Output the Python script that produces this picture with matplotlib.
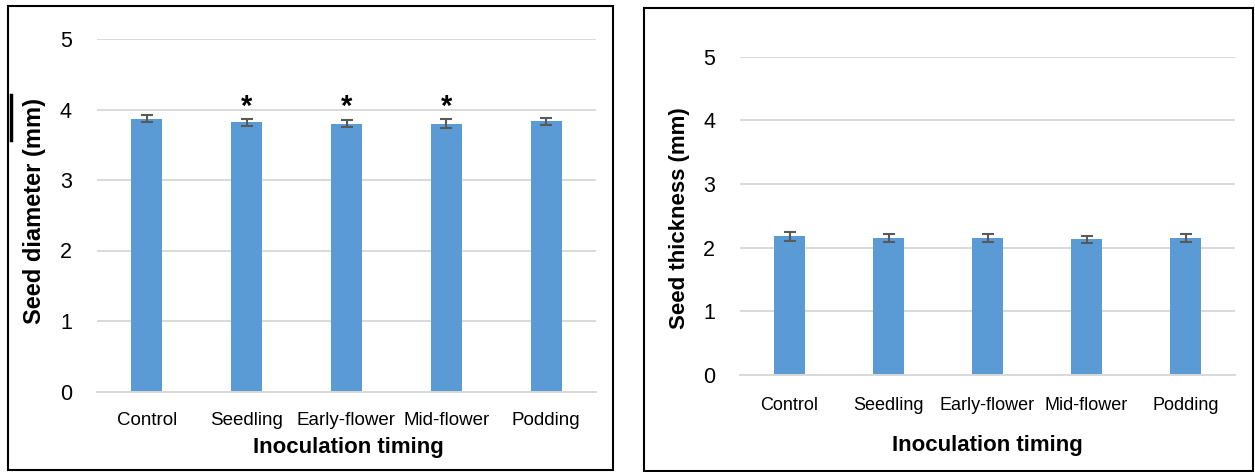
import matplotlib
matplotlib.use("Agg")
import matplotlib.pyplot as plt
from matplotlib.patches import Rectangle
from matplotlib.lines import Line2D

plt.rcParams['font.family'] = ['Liberation Sans', 'DejaVu Sans']

categories = ["Control", "Seedling", "Early-flower", "Mid-flower", "Podding"]
diameter = [3.87, 3.82, 3.80, 3.80, 3.83]
diameter_err = [0.05, 0.05, 0.05, 0.06, 0.05]
diameter_sig = [False, True, True, True, False]
thickness = [2.18, 2.15, 2.15, 2.13, 2.15]
thickness_err = [0.07, 0.065, 0.06, 0.06, 0.065]
yticks = [0, 1, 2, 3, 4, 5]

W, H = 1255, 472
fig = plt.figure(figsize=(W / 100, H / 100), dpi=100)

bar_color = "#5B9BD5"
grid_color = "#D9D9D9"
err_color = "#595959"


def px_axes(x0, x1, ytop, ybot):
    return fig.add_axes([x0 / W, 1 - ybot / H, (x1 - x0) / W, (ybot - ytop) / H])


def style(ax, vals, errs, cat_fs, xpad):
    x = range(len(categories))
    ax.bar(x, vals, width=0.31, color=bar_color, zorder=2)
    ax.errorbar(x, vals, yerr=errs, fmt="none", ecolor=err_color,
                elinewidth=1.5, capsize=4.3, capthick=1.5, zorder=3)
    ax.set_xlim(-0.5, len(categories) - 0.5)
    ax.set_ylim(0, 5)
    ax.set_yticks(yticks)
    ax.set_yticklabels([str(t) for t in yticks], fontsize=15.5)
    ax.set_xticks(list(x))
    ax.set_xticklabels(categories, fontsize=cat_fs)
    ax.grid(axis="y", color=grid_color, linewidth=1.4, zorder=0)
    ax.set_axisbelow(True)
    for s in ["top", "right", "left"]:
        ax.spines[s].set_visible(False)
    ax.spines["bottom"].set_color(grid_color)
    ax.spines["bottom"].set_linewidth(1.4)
    ax.tick_params(axis="both", length=0, colors="black")
    ax.tick_params(axis="y", pad=18)
    ax.tick_params(axis="x", pad=xpad)


# Left panel
ax1 = px_axes(97, 596, 39, 391.5)
style(ax1, diameter, diameter_err, 13.5, 14.5)
for i, s in enumerate(diameter_sig):
    if s:
        ax1.text(i, 4.04, "*", ha="center", va="center", fontsize=21,
                 fontweight="bold", color="black")
fig.text(35 / W, 1 - 211 / H, "Seed diameter (mm)", rotation=90,
         ha="center", va="center", fontsize=17, fontweight="bold")
fig.text(348 / W, 1 - 448 / H, "Inoculation timing", ha="center",
         va="center", fontsize=16, fontweight="bold")

# Right panel
ax2 = px_axes(740, 1235, 56.7, 375)
style(ax2, thickness, thickness_err, 13, 16)
fig.text(680 / W, 1 - 218 / H, "Seed thickness (mm)", rotation=90,
         ha="center", va="center", fontsize=16, fontweight="bold")
fig.text(987 / W, 1 - 445 / H, "Inoculation timing", ha="center",
         va="center", fontsize=16, fontweight="bold")

# Panel borders
fig.patches.append(Rectangle((8 / W, 1 - 470 / H), 605 / W, 464 / H,
                             transform=fig.transFigure, fill=False,
                             edgecolor="black", linewidth=1.5))
fig.patches.append(Rectangle((644 / W, 1 - 471 / H), 609 / W, 463 / H,
                             transform=fig.transFigure, fill=False,
                             edgecolor="black", linewidth=1.5))
fig.lines.append(Line2D([11.5 / W, 11.5 / W], [1 - 95 / H, 1 - 140 / H],
                        transform=fig.transFigure, color="black", linewidth=2.5))

fig.savefig("out.png", dpi=100)
